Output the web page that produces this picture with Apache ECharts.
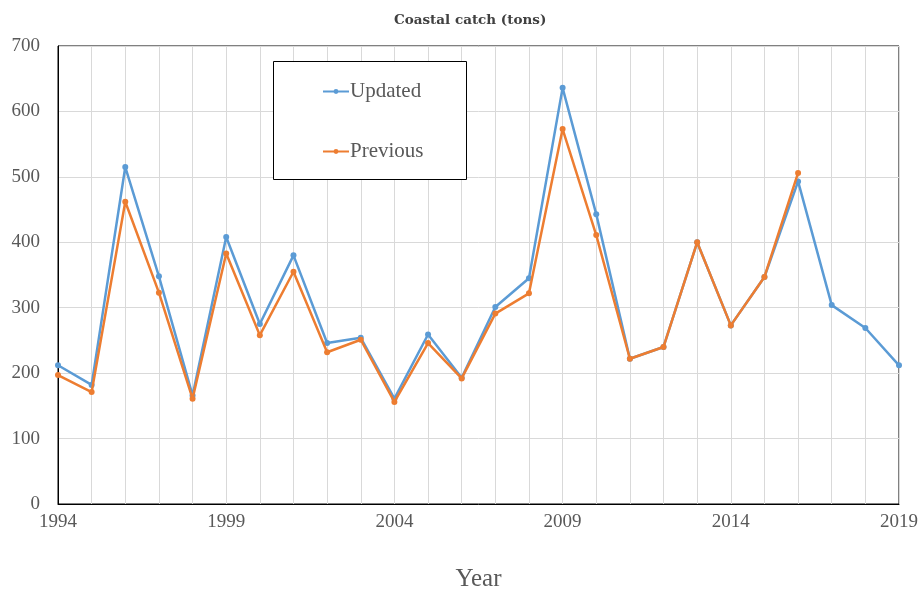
<!DOCTYPE html>
<html>
<head>
<meta charset="utf-8">
<script src="https://cdn.jsdelivr.net/npm/echarts@6/dist/echarts.min.js"></script>
<style>
  html, body { margin: 0; padding: 0; background: #fff; }
  #chart { width: 924px; height: 593px; }
</style>
</head>
<body>
<div id="chart"></div>
<script>
// Coastal catch by year, two estimate series
const years = [1994,1995,1996,1997,1998,1999,2000,2001,2002,2003,2004,2005,2006,
               2007,2008,2009,2010,2011,2012,2013,2014,2015,2016,2017,2018,2019];
const updated = [212,182,515,348,166,408,275,380,246,254,161,259,193,
                 301,345,636,443,222,240,400,273,347,493,304,269,212];
const previous = [197,171,462,323,161,383,258,355,232,251,156,246,192,
                  291,322,573,411,222,240,400,273,347,506];

const pairs = (vals) => vals.map((v, i) => [years[i], v]);

const serif = 'Liberation Serif, Times New Roman, serif';
const chart = echarts.init(document.getElementById('chart'));

chart.setOption({
  backgroundColor: '#fff',
  animation: false,
  title: {
    text: 'Coastal catch (tons)',
    left: 389,
    top: 8,
    textStyle: { fontFamily: 'DejaVu Serif, serif', fontSize: 13.5, fontWeight: 'bold', color: '#404040' }
  },
  grid: {
    left: 58, right: 25, top: 46, bottom: 89,
    outerBoundsMode: 'none',
    containLabel: false,
    show: true, borderColor: '#000', borderWidth: 1
  },
  legend: {
    orient: 'vertical',
    left: 317,
    top: 76,
    itemWidth: 26,
    itemHeight: 6,
    itemGap: 39,
    itemStyle: { borderWidth: 0 },
    textStyle: { fontFamily: serif, fontSize: 21, color: '#595959', padding: [0, 0, 0, -4] },
    data: ['Updated', 'Previous']
  },
  graphic: [{
    type: 'rect',
    shape: { x: 273.5, y: 61.5, width: 193, height: 118 },
    style: { fill: 'rgba(255,255,255,1)', stroke: '#000', lineWidth: 1 },
    z: 1
  }],
  xAxis: {
    type: 'value',
    min: 1994, max: 2019, interval: 1,
    name: 'Year',
    nameLocation: 'middle',
    nameGap: 63,
    nameTextStyle: { fontFamily: serif, fontSize: 25, color: '#595959' },
    axisLine: { show: true, lineStyle: { color: '#000', width: 1 } },
    axisTick: { show: false },
    splitLine: { show: true, lineStyle: { color: '#d9d9d9', width: 1 } },
    axisLabel: {
      margin: 9,
      fontFamily: serif, fontSize: 19, color: '#595959',
      formatter: (v) => ((v - 1994) % 5 === 0 ? String(v) : '')
    }
  },
  yAxis: {
    type: 'value',
    min: 0, max: 700, interval: 100,
    axisLine: { show: true, lineStyle: { color: '#000', width: 1 } },
    axisTick: { show: false },
    splitLine: { show: true, lineStyle: { color: '#d9d9d9', width: 1 } },
    axisLabel: { margin: 18, fontFamily: serif, fontSize: 19, color: '#595959' }
  },
  series: [
    {
      name: 'Updated',
      type: 'line',
      data: pairs(updated),
      color: '#5B9BD5',
      symbol: 'circle',
      symbolSize: 6,
      lineStyle: { width: 2.5, color: '#5B9BD5' },
      itemStyle: { color: '#5B9BD5' },
      z: 3
    },
    {
      name: 'Previous',
      type: 'line',
      data: pairs(previous),
      color: '#ED7D31',
      symbol: 'circle',
      symbolSize: 6,
      lineStyle: { width: 2.5, color: '#ED7D31' },
      itemStyle: { color: '#ED7D31' },
      z: 4
    }
  ]
});
</script>
</body>
</html>
